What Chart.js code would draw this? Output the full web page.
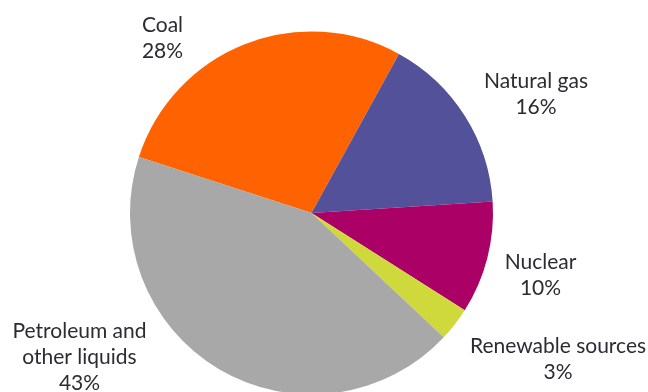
<!DOCTYPE html>
<html>
<head>
<meta charset="utf-8">
<script src="https://cdn.jsdelivr.net/npm/chart.js@4.4.1/dist/chart.umd.min.js"></script>
<style>
  html, body { margin: 0; padding: 0; background: #ffffff; overflow: hidden; width: 648px; height: 392px; }
  #wrap { width: 648px; height: 420px; position: relative; }
</style>
</head>
<body>
<div id="wrap"><canvas id="c" width="648" height="420"></canvas></div>
<script>
const categories = ['Coal', 'Natural gas', 'Nuclear', 'Renewable sources', 'Petroleum and other liquids'];
const labelLines = [['Coal'], ['Natural gas'], ['Nuclear'], ['Renewable sources'], ['Petroleum and', 'other liquids']];
const values = [28, 16, 10, 3, 43];
const colors = ['#FF6200', '#525199', '#AB0066', '#D0D93C', '#A8A8A8'];
// label anchor offsets from pie centre (x centre, first baseline), in px
const labelOffsets = [[-149, -181], [224.5, -125], [229, 56], [246.5, 140], [-232, 125]];

const outsideLabels = {
  id: 'outsideLabels',
  afterDatasetsDraw(chart) {
    const ctx = chart.ctx;
    const meta = chart.getDatasetMeta(0);
    const arc0 = meta.data[0];
    const cx = arc0.x, cy = arc0.y;
    ctx.save();
    ctx.font = '21px Lato';
    ctx.fillStyle = '#2b2b33';
    ctx.textAlign = 'center';
    ctx.textBaseline = 'alphabetic';
    const lh = 26;
    meta.data.forEach((arc, i) => {
      const lines = labelLines[i].concat([values[i] + '%']);
      const [dx, dy] = labelOffsets[i];
      lines.forEach((t, k) => ctx.fillText(t, cx + dx, cy + dy + k * lh));
    });
    ctx.restore();
  }
};

new Chart(document.getElementById('c'), {
  type: 'pie',
  data: {
    labels: categories,
    datasets: [{
      data: values,
      backgroundColor: colors,
      borderWidth: 0,
      hoverOffset: 0
    }]
  },
  options: {
    responsive: false,
    animation: false,
    rotation: -72,
    layout: { padding: { top: 31.5, bottom: 25.5, left: 0, right: 25 } },
    plugins: { legend: { display: false }, tooltip: { enabled: false } }
  },
  plugins: [outsideLabels]
});
</script>
</body>
</html>
